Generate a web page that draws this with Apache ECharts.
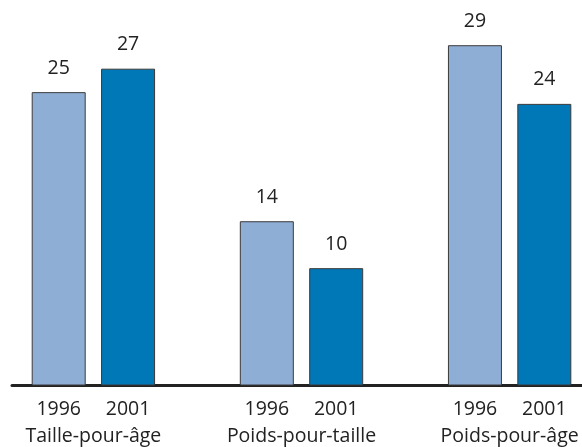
<!DOCTYPE html>
<html>
<head>
<meta charset="utf-8">
<script src="https://cdn.jsdelivr.net/npm/echarts@6/dist/echarts.min.js"></script>
<style>
html,body{margin:0;padding:0;background:#fff;}
#c{width:582px;height:447px;}
</style>
</head>
<body>
<div id="c"></div>
<script>
var groups = ['Taille-pour-âge', 'Poids-pour-taille', 'Poids-pour-âge'];
var years = ['1996', '2001'];
var values1996 = [25, 14, 29];
var values2001 = [27, 10, 24];
var colors = ['#8FAED6', '#0077B6'];

var FONT = '"Open Sans", sans-serif';
var cats = [], data = [], groupCats = [''];
for (var g = 0; g < groups.length; g++) {
  var vals = [values1996[g], values2001[g]];
  for (var y = 0; y < years.length; y++) {
    cats.push(years[y]);
    data.push({ value: vals[y], itemStyle: { color: colors[y] } });
  }
  groupCats.push(groups[g], '', '');
  if (g < groups.length - 1) {
    cats.push('');
    data.push({ value: null });
  }
}
groupCats.length = cats.length + 1;

var chart = echarts.init(document.getElementById('c'), null, { renderer: 'canvas' });
chart.setOption({
  animation: false,
  backgroundColor: '#ffffff',
  textStyle: { fontFamily: FONT },
  grid: [
    { left: 24, width: 560, top: 10, bottom: 61.5 },
    { left: 12, right: 0, top: 10, bottom: 61.5 }
  ],
  xAxis: [
    {
      type: 'category', gridIndex: 0, data: cats,
      axisLine: { show: false }, axisTick: { show: false },
      axisLabel: { interval: 0, margin: 14, fontSize: 19.5, color: '#222', fontFamily: FONT }
    },
    {
      type: 'category', gridIndex: 0, data: groupCats, boundaryGap: false, position: 'bottom',
      axisLine: { show: false }, axisTick: { show: false }, splitLine: { show: false },
      axisLabel: { interval: 0, margin: 41, fontSize: 19.5, color: '#222', fontFamily: FONT }
    },
    {
      type: 'category', gridIndex: 1, data: ['a'],
      axisLine: { show: true, lineStyle: { color: '#222', width: 3 } },
      axisTick: { show: false }, axisLabel: { show: false }
    }
  ],
  yAxis: [
    { type: 'value', gridIndex: 0, min: 0, max: 32, show: false },
    { type: 'value', gridIndex: 1, min: 0, max: 32, show: false }
  ],
  series: [
    {
      type: 'bar', xAxisIndex: 0, yAxisIndex: 0, data: data, barWidth: 54,
      itemStyle: { borderColor: '#3a3a3a', borderWidth: 1 },
      label: { show: true, position: 'top', distance: 14, fontSize: 19.5, color: '#222', fontFamily: FONT }
    }
  ]
});
</script>
</body>
</html>
